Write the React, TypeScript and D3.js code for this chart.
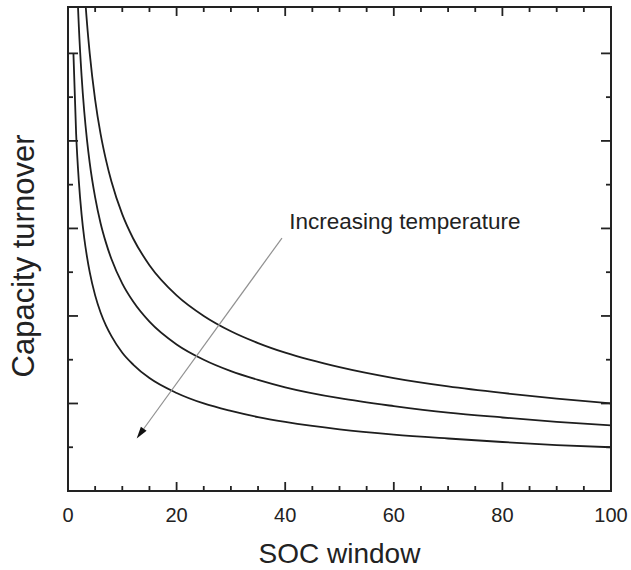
import React from "react";
import * as d3 from "d3";

// SOC window sample positions (x) and capacity turnover
const socWindow = [1, 1.5, 2, 2.5, 3, 3.5, 4, 5, 6, 7, 8, 10, 12, 15, 20, 25, 30, 35, 40, 50, 60, 70, 80, 90, 100];
const turnoverLowT = [10, 8.16, 7.07, 6.32, 5.77, 5.35, 5.0, 4.47, 4.08, 3.78, 3.54, 3.16, 2.89, 2.58, 2.24, 2.0, 1.83, 1.69, 1.58, 1.41, 1.29, 1.2, 1.12, 1.05, 1.0];
const turnoverMidT = [15, 12.25, 10.61, 9.49, 8.66, 8.02, 7.5, 6.71, 6.12, 5.67, 5.3, 4.74, 4.33, 3.87, 3.35, 3.0, 2.74, 2.54, 2.37, 2.12, 1.94, 1.79, 1.68, 1.58, 1.5];
const turnoverHighT = [20, 16.33, 14.14, 12.65, 11.55, 10.69, 10.0, 8.94, 8.16, 7.56, 7.07, 6.32, 5.77, 5.16, 4.47, 4.0, 3.65, 3.38, 3.16, 2.83, 2.58, 2.39, 2.24, 2.11, 2.0];
const series = [turnoverHighT, turnoverMidT, turnoverLowT];

const xTickValues = [0, 5, 10, 15, 20, 25, 30, 35, 40, 45, 50, 55, 60, 65, 70, 75, 80, 85, 90, 95, 100];
const xTickLabels = [0, 20, 40, 60, 80, 100];
const yTickValues = [1, 2, 3, 4, 5, 6, 7, 8, 9, 10];
const xDomain = [0, 100];
const yDomain = [0, 11.06];

// arrow annotation (data coordinates): start, end
const arrowFrom = [39.4, 5.78];
const arrowTo = [12.65, 1.2];
const annotationText = "Increasing temperature";
const annotationAt = [40.0, 6.0];

const W = 631;
const H = 570;
const L = 68, R = 611, T = 7, B = 491;
const FONT = "'Liberation Sans', Arial, Helvetica, sans-serif";

export default function App() {
  const x = d3.scaleLinear().domain(xDomain).range([L, R]);
  const y = d3.scaleLinear().domain(yDomain).range([B, T]);
  const line = d3
    .line<number>()
    .x((_, i) => x(socWindow[i]))
    .y((d) => y(d))
    .curve(d3.curveMonotoneX);

  const ax = x(arrowFrom[0]), ay = y(arrowFrom[1]);
  const bx = x(arrowTo[0]), by = y(arrowTo[1]);
  const ang = Math.atan2(by - ay, bx - ax);
  const headLen = 12, headW = 3.5;
  const hx = bx - headLen * Math.cos(ang), hy = by - headLen * Math.sin(ang);
  const px = -Math.sin(ang), py = Math.cos(ang);
  const head = `${bx},${by} ${hx + px * headW},${hy + py * headW} ${hx - px * headW},${hy - py * headW}`;

  return (
    <svg width={W} height={H} style={{ position: "absolute", left: 0, top: 0, background: "#fff" }} fontFamily={FONT}>
      <defs>
        <clipPath id="plotClip">
          <rect x={L} y={T} width={R - L} height={B - T} />
        </clipPath>
      </defs>
      <g clipPath="url(#plotClip)">
        {series.map((s, i) => (
          <path key={i} d={line(s) || ""} fill="none" stroke="#1e1e1e" strokeWidth={1.8} />
        ))}
      </g>
      {/* arrow */}
      <line x1={ax} y1={ay} x2={hx} y2={hy} stroke="#919191" strokeWidth={1.2} />
      <polygon points={head} fill="#111" />
      <text x={x(annotationAt[0]) + 4} y={228.5} fontSize={22.5} fill="#222">{annotationText}</text>

      {/* ticks */}
      {xTickValues.map((v) => {
        const len = v % 20 === 0 ? 9 : 5;
        return (
          <g key={"xt" + v} stroke="#222" strokeWidth={1.8}>
            <line x1={x(v)} x2={x(v)} y1={B} y2={B - len} />
            <line x1={x(v)} x2={x(v)} y1={T} y2={T + len} />
          </g>
        );
      })}
      {yTickValues.map((v) => {
        const len = v % 2 === 0 ? 10 : 5;
        return (
          <g key={"yt" + v} stroke="#222" strokeWidth={1.8}>
            <line x1={L} x2={L + len} y1={y(v)} y2={y(v)} />
            <line x1={R} x2={R - len} y1={y(v)} y2={y(v)} />
          </g>
        );
      })}
      <rect x={L} y={T} width={R - L} height={B - T} fill="none" stroke="#222" strokeWidth={2} />

      {xTickLabels.map((v) => (
        <text key={"xl" + v} x={x(v)} y={521.5} fontSize={20} textAnchor="middle" fill="#222">
          {v}
        </text>
      ))}
      <text x={(L + R) / 2} y={563} fontSize={28} textAnchor="middle" fill="#222">SOC window</text>
      <text
        transform={`translate(33.5, ${(130 + 382) / 2}) rotate(-90)`}
        fontSize={31}
        textAnchor="middle"
        fill="#222"
      >
        Capacity turnover
      </text>
    </svg>
  );
}
